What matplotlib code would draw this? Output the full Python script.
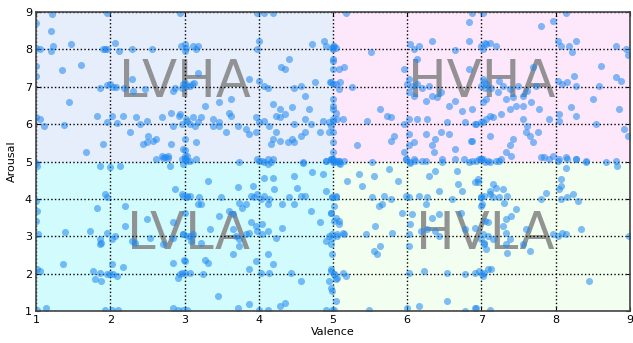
import matplotlib
matplotlib.use('Agg')
import matplotlib.pyplot as plt
from matplotlib.patches import Rectangle

# Valoraciones (valence, arousal) leídas a ojo del gráfico, agrupadas por cuadrante
lvha_points = [
    (1.21, 8.94), (1.96, 8.98), (2.94, 8.98), (1.0, 8.7), (1.2, 8.48), (1.0, 8.05), (1.05, 8.0),
    (1.23, 8.1), (1.2, 7.95), (1.47, 8.14), (1.9, 8.0), (1.93, 8.0), (1.96, 8.0), (2.06, 8.16),
    (2.12, 7.96), (2.29, 8.0), (2.56, 8.0), (2.95, 8.1), (3.0, 8.14), (3.0, 7.96), (3.16, 8.0),
    (1.0, 7.56), (1.0, 7.29), (1.35, 7.45), (1.61, 7.59), (1.86, 6.98), (1.95, 7.04), (2.0, 7.07),
    (2.04, 7.0), (2.08, 7.0), (2.18, 6.98), (2.29, 7.2), (2.31, 6.9), (2.47, 6.94), (2.85, 6.9),
    (2.87, 6.96), (3.0, 7.1), (3.03, 7.03), (3.1, 7.07), (2.96, 6.98), (1.44, 6.6), (1.0, 6.18),
    (1.05, 6.13), (1.1, 5.96), (1.37, 5.98), (1.82, 6.23), (1.95, 6.07), (2.02, 6.23), (2.09, 6.03),
    (2.17, 6.23), (2.35, 6.18), (2.4, 6.0), (2.5, 6.09), (2.69, 6.18), (2.82, 6.3), (2.94, 6.27),
    (2.85, 5.96), (2.96, 6.0), (3.03, 6.09), (3.07, 6.0), (3.14, 5.96), (3.18, 6.05), (2.26, 5.78),
    (2.51, 5.69), (2.49, 5.52), (2.58, 5.56), (2.62, 5.6), (2.44, 5.47), (2.82, 5.47), (3.0, 5.6),
    (3.0, 5.3), (3.03, 5.16), (3.0, 5.07), (1.9, 5.47), (1.67, 5.25), (2.69, 5.16), (2.74, 5.11),
    (2.78, 5.16), (3.02, 8.05), (3.11, 8.09), (3.18, 8.09), (3.98, 8.98), (4.07, 8.98), (4.19, 8.98),
    (4.0, 8.23), (3.97, 8.0), (4.72, 8.14), (4.88, 8.23), (4.9, 8.1), (4.99, 8.05), (5.0, 8.1),
    (4.41, 7.74), (4.3, 7.52), (4.36, 7.47), (5.0, 7.74), (5.0, 7.47), (3.18, 7.38), (2.98, 7.07),
    (3.07, 7.03), (3.13, 7.1), (3.87, 7.2), (4.0, 7.16), (4.07, 7.03), (4.12, 6.98), (4.48, 6.98),
    (4.57, 7.03), (4.76, 7.12), (4.63, 6.76), (4.96, 7.12), (5.0, 7.07), (3.63, 6.67), (3.47, 6.58),
    (3.27, 6.49), (4.19, 6.54), (4.28, 6.4), (4.45, 6.45), (4.68, 6.4), (5.0, 6.4), (5.0, 6.13),
    (5.0, 6.67), (3.6, 6.31), (3.63, 6.23), (2.93, 6.23), (3.02, 6.13), (3.11, 6.18), (3.22, 6.18),
    (3.38, 6.13), (3.47, 6.05), (3.96, 6.18), (4.0, 6.05), (4.07, 6.09), (4.14, 5.96), (4.23, 6.23),
    (4.28, 6.18), (4.36, 6.27), (4.48, 6.0), (4.63, 6.13), (4.7, 6.0), (4.86, 6.09), (4.95, 6.05),
    (5.0, 6.09), (5.0, 5.78), (3.38, 5.96), (3.47, 5.96), (3.72, 5.96), (3.83, 5.87), (3.87, 5.74),
    (3.96, 5.78), (3.56, 5.78), (4.23, 5.78), (4.19, 5.6), (4.28, 5.56), (4.16, 5.47), (4.39, 5.52),
    (4.45, 5.6), (4.48, 5.52), (4.57, 5.69), (3.16, 5.52), (2.98, 5.34), (3.0, 5.16), (4.63, 5.78),
    (4.83, 5.78), (4.95, 5.78), (5.0, 5.52), (5.0, 5.25), (4.0, 5.02), (4.07, 4.98), (4.12, 5.07),
    (4.16, 4.98), (4.9, 5.02), (5.0, 5.07), (5.0, 4.98), (4.59, 4.98), (3.74, 4.98),
]

hvha_points = [
    (5.17, 8.98), (6.87, 8.98), (5.01, 8.09), (5.0, 8.0), (5.04, 8.05), (5.51, 7.92), (6.04, 8.14),
    (6.16, 8.1), (6.09, 8.0), (6.34, 8.23), (6.65, 7.99), (6.83, 8.23), (6.83, 8.72), (7.0, 8.1),
    (7.05, 8.18), (5.0, 7.7), (5.08, 7.47), (5.15, 7.52), (5.96, 7.47), (6.13, 7.74), (6.83, 7.47),
    (4.97, 7.12), (5.04, 7.07), (5.1, 7.12), (5.08, 6.94), (5.26, 7.0), (6.02, 7.2), (6.0, 7.07),
    (6.07, 7.03), (6.13, 7.07), (6.02, 6.85), (6.09, 6.76), (6.2, 6.98), (6.29, 7.03), (6.34, 6.76),
    (6.4, 6.72), (6.45, 6.85), (6.25, 6.63), (6.56, 6.49), (6.65, 6.63), (6.74, 6.36), (7.03, 7.12),
    (7.05, 6.98), (5.0, 6.49), (5.04, 6.31), (4.97, 5.96), (5.06, 6.13), (5.13, 6.13), (5.64, 6.4),
    (5.73, 6.23), (5.78, 6.18), (5.46, 6.09), (5.96, 6.0), (6.02, 6.13), (6.13, 6.13), (6.27, 6.13),
    (6.54, 6.05), (6.45, 5.78), (6.56, 5.74), (6.78, 6.05), (6.92, 6.0), (7.0, 6.05), (5.82, 5.69),
    (5.78, 5.56), (5.33, 5.43), (6.02, 5.74), (6.02, 5.43), (6.09, 5.52), (6.25, 5.74), (6.38, 5.6),
    (6.34, 5.43), (6.65, 5.34), (6.87, 5.56), (5.96, 5.25), (6.36, 5.25), (4.97, 5.07), (5.01, 4.98),
    (5.08, 5.02), (5.53, 5.0), (5.98, 5.07), (6.04, 4.98), (6.09, 5.07), (6.25, 5.02), (6.47, 4.98),
    (6.83, 4.98), (7.0, 5.07), (7.05, 4.98), (7.8, 8.62), (7.96, 8.76), (7.02, 8.98), (8.14, 8.98),
    (7.02, 8.0), (7.06, 8.14), (7.11, 8.18), (7.2, 8.1), (8.03, 8.23), (8.07, 8.09), (8.18, 8.09),
    (8.27, 8.23), (8.22, 7.92), (8.81, 8.09), (8.95, 8.0), (8.97, 7.86), (8.61, 7.56), (7.69, 7.52),
    (7.02, 7.2), (7.0, 7.03), (7.06, 7.07), (7.13, 6.98), (7.24, 7.16), (7.29, 7.03), (7.38, 6.94),
    (7.49, 7.03), (7.62, 6.9), (7.74, 7.03), (8.03, 7.16), (8.09, 7.07), (8.16, 7.12), (8.25, 7.29),
    (8.27, 7.03), (8.59, 7.03), (8.81, 7.25), (8.88, 7.16), (7.22, 6.85), (7.33, 6.67), (7.42, 6.72),
    (7.56, 6.76), (7.06, 6.67), (7.02, 6.58), (6.88, 6.4), (7.11, 6.23), (7.06, 6.13), (7.15, 6.18),
    (7.02, 6.05), (6.93, 6.0), (7.26, 6.27), (7.38, 6.4), (7.47, 6.49), (7.56, 6.49), (7.67, 6.58),
    (7.78, 6.4), (7.91, 6.13), (8.05, 6.27), (8.05, 6.09), (8.21, 6.45), (8.27, 6.23), (8.5, 6.67),
    (8.54, 6.0), (8.86, 6.4), (7.56, 6.13), (7.62, 5.96), (7.6, 5.78), (7.65, 5.69), (7.69, 5.52),
    (7.42, 5.6), (7.38, 5.43), (7.33, 5.25), (7.11, 5.69), (6.86, 5.56), (7.76, 5.78), (7.85, 5.12),
    (7.96, 5.16), (8.05, 5.07), (8.14, 5.12), (8.92, 5.87), (8.97, 5.69), (6.97, 5.07), (7.11, 4.98),
    (7.24, 5.02), (7.4, 5.16), (8.27, 5.07), (8.41, 4.98), (8.68, 5.0), (8.81, 5.02),
]

lvla_points = [
    (1.0, 4.97), (1.01, 4.88), (1.86, 4.88), (2.0, 4.86), (2.13, 4.88), (2.62, 5.06), (2.71, 5.1),
    (2.78, 5.09), (2.8, 4.88), (2.96, 5.06), (2.98, 4.93), (3.03, 5.02), (1.0, 3.95), (1.01, 3.68),
    (1.0, 3.41), (1.93, 4.13), (1.96, 4.04), (1.82, 3.77), (2.2, 3.81), (2.2, 3.28), (2.49, 3.46),
    (2.87, 4.26), (2.98, 4.08), (3.03, 4.04), (3.07, 4.08), (3.18, 3.86), (2.85, 3.37), (3.0, 3.63),
    (1.03, 3.05), (1.39, 3.12), (1.73, 3.14), (1.86, 2.92), (1.88, 2.83), (1.86, 2.79), (1.95, 3.1),
    (2.02, 2.92), (2.06, 3.01), (2.29, 2.88), (2.33, 2.83), (2.53, 2.96), (2.71, 2.79), (2.85, 2.96),
    (2.98, 3.05), (3.03, 3.01), (3.12, 3.05), (3.09, 2.88), (1.01, 2.12), (1.05, 2.07), (1.36, 2.27),
    (1.77, 2.07), (1.79, 1.85), (1.88, 1.8), (1.86, 2.03), (1.95, 1.98), (2.0, 1.98), (2.04, 1.98),
    (2.09, 1.94), (2.02, 2.25), (2.17, 2.18), (2.85, 2.29), (2.94, 1.98), (2.91, 1.89), (3.0, 2.03),
    (3.07, 2.03), (2.99, 2.36), (1.01, 1.02), (1.14, 1.07), (1.93, 1.02), (2.02, 1.04), (2.11, 1.04),
    (2.85, 1.07), (2.91, 1.04), (3.0, 5.06), (3.07, 5.02), (3.16, 5.06), (3.98, 5.06), (4.05, 5.02),
    (4.12, 4.93), (4.19, 5.06), (4.9, 5.02), (4.97, 5.06), (5.04, 5.02), (5.08, 4.97), (5.15, 5.02),
    (4.59, 4.97), (4.72, 4.71), (4.86, 4.66), (3.31, 4.48), (3.72, 4.33), (3.92, 4.35), (4.07, 4.57),
    (4.19, 4.57), (4.2, 4.26), (4.48, 4.62), (2.96, 4.13), (3.04, 4.08), (3.2, 4.04), (3.22, 3.86),
    (3.49, 4.04), (3.74, 3.9), (3.78, 3.77), (3.83, 3.86), (3.9, 4.08), (3.94, 4.04), (3.98, 4.13),
    (4.03, 4.0), (4.07, 4.08), (4.12, 3.86), (4.14, 4.0), (4.32, 3.86), (4.41, 4.04), (4.48, 3.86),
    (4.52, 4.3), (4.57, 4.08), (4.63, 4.08), (4.9, 4.21), (4.99, 4.04), (5.04, 4.04), (5.01, 3.81),
    (4.97, 3.63), (5.04, 3.5), (5.08, 3.41), (4.7, 3.68), (4.83, 3.37), (3.47, 3.54), (3.6, 3.68),
    (3.65, 3.59), (3.9, 3.37), (3.96, 3.28), (4.05, 3.32), (3.98, 3.14), (4.05, 3.05), (4.12, 3.14),
    (4.23, 2.96), (4.32, 3.23), (2.98, 3.05), (3.07, 3.01), (3.22, 2.83), (3.34, 3.19), (3.65, 3.19),
    (3.69, 3.01), (3.74, 2.92), (3.83, 3.05), (3.87, 3.1), (3.65, 2.52), (3.74, 2.74), (4.9, 2.88),
    (4.99, 2.96), (5.06, 3.05), (5.13, 3.1), (4.94, 3.01), (3.27, 2.38), (3.31, 2.29), (3.0, 2.34),
    (2.96, 2.03), (3.25, 1.98), (3.96, 2.34), (4.12, 2.52), (4.19, 2.25), (3.87, 2.12), (4.03, 2.03),
    (4.14, 2.03), (4.43, 2.03), (4.57, 1.8), (4.97, 2.12), (5.01, 1.98), (4.94, 1.8), (5.04, 1.85),
    (4.97, 1.63), (5.17, 1.94), (3.45, 1.4), (3.87, 1.18), (4.28, 1.13), (4.36, 1.22), (3.72, 1.07),
    (4.0, 1.04), (4.12, 1.04), (4.9, 1.04), (5.01, 1.04), (2.98, 1.04), (3.04, 1.04),
]

hvla_points = [
    (4.99, 5.06), (5.08, 5.02), (5.1, 4.93), (5.19, 4.48), (5.35, 4.66), (5.39, 4.35), (5.55, 4.62),
    (5.75, 4.79), (5.87, 4.48), (5.98, 5.06), (6.04, 4.97), (6.11, 5.02), (6.2, 5.02), (6.29, 4.62),
    (6.38, 4.75), (6.43, 4.21), (6.47, 5.06), (6.65, 5.06), (6.76, 5.06), (6.87, 5.02), (6.99, 5.06),
    (6.67, 4.75), (6.69, 4.39), (6.74, 4.21), (6.92, 4.44), (6.96, 4.53), (4.99, 4.04), (5.04, 4.08),
    (4.97, 3.63), (5.01, 3.41), (5.08, 3.32), (5.53, 4.04), (5.62, 3.81), (5.69, 4.08), (5.66, 3.86),
    (5.78, 3.99), (5.93, 3.63), (5.98, 4.08), (6.02, 4.04), (6.07, 3.59), (6.16, 4.08), (6.27, 4.04),
    (6.25, 3.86), (6.43, 3.59), (6.34, 3.5), (6.72, 3.63), (6.78, 3.19), (6.61, 3.99), (6.99, 4.04),
    (7.01, 3.86), (7.05, 3.41), (4.99, 3.05), (5.06, 3.01), (5.15, 3.05), (4.97, 2.79), (5.44, 3.05),
    (5.57, 3.28), (5.64, 2.74), (5.55, 2.61), (5.6, 2.52), (5.8, 3.1), (6.02, 3.05), (6.18, 3.14),
    (6.27, 3.19), (6.38, 3.14), (6.43, 3.01), (6.04, 3.32), (6.02, 2.74), (6.99, 2.92), (7.03, 2.83),
    (4.99, 2.52), (4.97, 2.07), (5.01, 1.98), (5.06, 1.89), (5.13, 2.03), (6.02, 2.03), (6.22, 2.07),
    (6.54, 2.03), (6.78, 1.98), (6.92, 2.03), (7.01, 1.98), (4.99, 1.54), (5.04, 1.27), (6.54, 1.27),
    (6.16, 1.13), (4.99, 1.04), (5.48, 1.04), (6.0, 1.07), (6.78, 1.0), (6.92, 1.07), (6.93, 5.02),
    (7.02, 5.06), (7.09, 5.02), (7.2, 5.02), (7.26, 5.06), (7.8, 5.11), (7.91, 5.06), (8.03, 5.02),
    (8.16, 5.06), (8.27, 5.06), (8.41, 5.02), (8.14, 4.84), (8.83, 4.88), (6.95, 4.44), (7.15, 4.39),
    (7.2, 4.3), (7.29, 4.26), (7.11, 4.21), (8.07, 4.53), (8.07, 4.35), (8.05, 4.26), (7.87, 4.17),
    (7.8, 3.99), (7.0, 4.04), (7.04, 4.08), (7.11, 4.13), (7.15, 4.04), (7.24, 4.04), (7.35, 4.08),
    (7.31, 3.9), (8.07, 3.99), (8.16, 4.04), (8.23, 4.13), (8.3, 3.95), (7.0, 3.81), (7.47, 3.72),
    (7.4, 3.54), (7.33, 3.46), (7.29, 3.28), (6.91, 3.23), (7.09, 3.37), (7.02, 3.05), (7.09, 3.01),
    (7.15, 2.92), (7.04, 2.79), (7.06, 2.65), (7.33, 3.1), (7.38, 2.92), (7.33, 2.79), (7.35, 2.56),
    (7.56, 2.79), (7.65, 2.61), (7.6, 3.19), (7.96, 3.05), (8.03, 3.01), (8.09, 3.1), (8.14, 3.05),
    (8.34, 3.19), (6.97, 2.07), (7.04, 2.03), (7.09, 2.12), (7.13, 2.12), (7.02, 1.94), (8.45, 1.8),
    (8.99, 3.01), (6.93, 1.07), (7.11, 1.04),
]

# Etiquetas de cuadrante y sus colores de fondo
quadrant_labels = ['LVHA', 'HVHA', 'LVLA', 'HVLA']
quadrant_colors = ['#e6edfb', '#fde8fb', '#d2fbfd', '#f2fff0']

all_points = lvha_points + hvha_points + lvla_points + hvla_points
valence = [p[0] for p in all_points]
arousal = [p[1] for p in all_points]

fig = plt.figure(figsize=(6.33, 3.43), dpi=100)
ax = fig.add_axes([0.057, 0.093, 0.938, 0.872])

# fondos de los cuadrantes
corners = [(1, 5), (5, 5), (1, 1), (5, 1)]
for (x0, y0), col in zip(corners, quadrant_colors):
    ax.add_patch(Rectangle((x0, y0), 4, 4, facecolor=col, edgecolor='none', zorder=0))

# textos grandes (debajo de la rejilla y de los puntos)
centers = [(3.0, 7.1), (7.0, 7.1), (3.05, 3.03), (7.05, 3.03)]
for (cx, cy), lab in zip(centers, quadrant_labels):
    ax.text(cx, cy, lab, fontsize=37, color='#888888', alpha=0.9,
            ha='center', va='center', zorder=1)

# puntos
ax.scatter(valence, arousal, s=26, color='#1e88f0', alpha=0.55, linewidths=0, zorder=3)

ax.set_xlim(1, 9)
ax.set_ylim(1, 9)
ax.set_xticks(range(1, 10))
ax.set_yticks(range(1, 10))
ax.tick_params(direction='in', top=True, right=True, labelsize=8, length=3, pad=3)
ax.grid(True, color='black', linestyle=':', linewidth=1)
for line in ax.get_xgridlines() + ax.get_ygridlines():
    line.set_zorder(2)
for sp in ax.spines.values():
    sp.set_color('#444444')
    sp.set_linewidth(1.2)
    sp.set_zorder(5)

ax.set_xlabel('Valence', fontsize=8, labelpad=1)
ax.set_ylabel('Arousal', fontsize=8, labelpad=6)

fig.savefig('out.png', dpi=100)
